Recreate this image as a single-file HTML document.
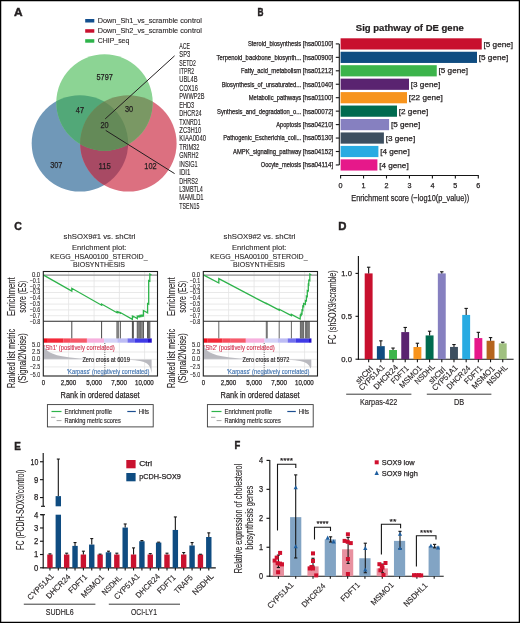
<!DOCTYPE html><html><head><meta charset="utf-8"><style>html,body{margin:0;padding:0;background:#fff}svg{display:block;will-change:transform}</style></head><body>
<svg width="520" height="623" viewBox="0 0 520 623" font-family='"Liberation Sans", sans-serif' fill="#231f20">
<rect x="0" y="0" width="520" height="623" fill="#fff"/>
<text x="13.90" y="15.90" font-size="11.6" font-weight="bold" textLength="8.60" lengthAdjust="spacingAndGlyphs" stroke="#231f20" stroke-width="0.45">A</text>
<rect x="85.20" y="19.00" width="9.10" height="3.50" fill="#134f8e"/>
<rect x="85.20" y="29.20" width="9.10" height="3.50" fill="#c8102e"/>
<rect x="85.20" y="39.20" width="9.10" height="3.50" fill="#2db34a"/>
<text x="97.80" y="22.60" font-size="7.5" textLength="104.20" lengthAdjust="spacingAndGlyphs" stroke="#231f20" stroke-width="0.1">Down_Sh1_vs_scramble control</text>
<text x="97.80" y="32.80" font-size="7.5" textLength="104.20" lengthAdjust="spacingAndGlyphs" stroke="#231f20" stroke-width="0.1">Down_Sh2_vs_scramble control</text>
<text x="97.80" y="42.80" font-size="7.5" textLength="31.50" lengthAdjust="spacingAndGlyphs" stroke="#231f20" stroke-width="0.1">CHIP_seq</text>
<defs><clipPath id="cB"><circle cx="79.9" cy="143.4" r="48.2"/></clipPath><clipPath id="cR"><circle cx="128.4" cy="143.4" r="48.2"/></clipPath><clipPath id="cG"><circle cx="104.5" cy="102.5" r="48.2"/></clipPath></defs>
<circle cx="79.9" cy="143.4" r="48.2" fill="rgb(112,152,184)"/>
<circle cx="128.4" cy="143.4" r="48.2" fill="rgb(220,112,128)"/>
<circle cx="104.5" cy="102.5" r="48.2" fill="rgb(140,212,148)"/>
<g clip-path="url(#cB)"><circle cx="128.4" cy="143.4" r="48.2" fill="rgb(168,74,100)"/><circle cx="104.5" cy="102.5" r="48.2" fill="rgb(82,168,120)"/></g>
<g clip-path="url(#cR)"><circle cx="104.5" cy="102.5" r="48.2" fill="rgb(122,152,100)"/></g>
<g clip-path="url(#cR)"><g clip-path="url(#cB)"><circle cx="104.5" cy="102.5" r="48.2" fill="rgb(100,138,88)"/></g></g>
<text x="104.65" y="79.80" font-size="8.6" text-anchor="middle" textLength="16.30" lengthAdjust="spacingAndGlyphs" stroke="#231f20" stroke-width="0.25">5797</text>
<text x="79.90" y="113.40" font-size="8.6" text-anchor="middle" textLength="8.20" lengthAdjust="spacingAndGlyphs" stroke="#231f20" stroke-width="0.25">47</text>
<text x="129.00" y="111.80" font-size="8.6" text-anchor="middle" textLength="8.20" lengthAdjust="spacingAndGlyphs" stroke="#231f20" stroke-width="0.25">30</text>
<text x="104.60" y="128.40" font-size="8.6" text-anchor="middle" textLength="8.20" lengthAdjust="spacingAndGlyphs" stroke="#231f20" stroke-width="0.25">20</text>
<text x="56.30" y="168.30" font-size="8.6" text-anchor="middle" textLength="12.30" lengthAdjust="spacingAndGlyphs" stroke="#231f20" stroke-width="0.25">307</text>
<text x="104.60" y="169.10" font-size="8.6" text-anchor="middle" textLength="12.30" lengthAdjust="spacingAndGlyphs" stroke="#231f20" stroke-width="0.25">115</text>
<text x="150.50" y="169.10" font-size="8.6" text-anchor="middle" textLength="12.30" lengthAdjust="spacingAndGlyphs" stroke="#231f20" stroke-width="0.25">102</text>
<line x1="105.20" y1="118.90" x2="174.60" y2="55.80" stroke="#231f20" stroke-width="1.0"/>
<line x1="105.70" y1="130.40" x2="174.60" y2="173.60" stroke="#231f20" stroke-width="1.0"/>
<text x="179.30" y="48.70" font-size="8.5" textLength="10.70" lengthAdjust="spacingAndGlyphs" stroke="#231f20" stroke-width="0.12">ACE</text>
<text x="179.30" y="57.13" font-size="8.5" textLength="11.00" lengthAdjust="spacingAndGlyphs" stroke="#231f20" stroke-width="0.12">SP3</text>
<text x="179.30" y="65.56" font-size="8.5" textLength="16.60" lengthAdjust="spacingAndGlyphs" stroke="#231f20" stroke-width="0.12">SETD2</text>
<text x="179.30" y="73.99" font-size="8.5" textLength="14.80" lengthAdjust="spacingAndGlyphs" stroke="#231f20" stroke-width="0.12">ITPR2</text>
<text x="179.30" y="82.42" font-size="8.5" textLength="18.20" lengthAdjust="spacingAndGlyphs" stroke="#231f20" stroke-width="0.12">UBL4B</text>
<text x="179.30" y="90.85" font-size="8.5" textLength="18.60" lengthAdjust="spacingAndGlyphs" stroke="#231f20" stroke-width="0.12">COX16</text>
<text x="179.30" y="99.28" font-size="8.5" textLength="25.10" lengthAdjust="spacingAndGlyphs" stroke="#231f20" stroke-width="0.12">PWWP2B</text>
<text x="179.30" y="107.71" font-size="8.5" textLength="14.80" lengthAdjust="spacingAndGlyphs" stroke="#231f20" stroke-width="0.12">EHD3</text>
<text x="179.30" y="116.14" font-size="8.5" textLength="22.30" lengthAdjust="spacingAndGlyphs" stroke="#231f20" stroke-width="0.12">DHCR24</text>
<text x="179.30" y="124.57" font-size="8.5" textLength="21.40" lengthAdjust="spacingAndGlyphs" stroke="#231f20" stroke-width="0.12">TXNRD1</text>
<text x="179.30" y="133.00" font-size="8.5" textLength="22.00" lengthAdjust="spacingAndGlyphs" stroke="#231f20" stroke-width="0.12">ZC3H10</text>
<text x="179.30" y="141.43" font-size="8.5" textLength="26.70" lengthAdjust="spacingAndGlyphs" stroke="#231f20" stroke-width="0.12">KIAA0040</text>
<text x="179.30" y="149.86" font-size="8.5" textLength="20.10" lengthAdjust="spacingAndGlyphs" stroke="#231f20" stroke-width="0.12">TRIM32</text>
<text x="179.30" y="158.29" font-size="8.5" textLength="19.40" lengthAdjust="spacingAndGlyphs" stroke="#231f20" stroke-width="0.12">GNRH2</text>
<text x="179.30" y="166.72" font-size="8.5" textLength="18.30" lengthAdjust="spacingAndGlyphs" stroke="#231f20" stroke-width="0.12">INSIG1</text>
<text x="179.30" y="175.15" font-size="8.5" textLength="11.10" lengthAdjust="spacingAndGlyphs" stroke="#231f20" stroke-width="0.12">IDI1</text>
<text x="179.30" y="183.58" font-size="8.5" textLength="18.70" lengthAdjust="spacingAndGlyphs" stroke="#231f20" stroke-width="0.12">DHRS2</text>
<text x="179.30" y="192.01" font-size="8.5" textLength="23.60" lengthAdjust="spacingAndGlyphs" stroke="#231f20" stroke-width="0.12">L3MBTL4</text>
<text x="179.30" y="200.44" font-size="8.5" textLength="24.30" lengthAdjust="spacingAndGlyphs" stroke="#231f20" stroke-width="0.12">MAMLD1</text>
<text x="179.30" y="208.87" font-size="8.5" textLength="20.10" lengthAdjust="spacingAndGlyphs" stroke="#231f20" stroke-width="0.12">TSEN15</text>
<text x="257.50" y="16.10" font-size="11.0" font-weight="bold" textLength="6.00" lengthAdjust="spacingAndGlyphs" stroke="#231f20" stroke-width="0.45">B</text>
<text x="355.80" y="30.80" font-size="8.6" font-weight="bold" textLength="108.00" lengthAdjust="spacingAndGlyphs" stroke="#231f20" stroke-width="0.2">Sig pathway of DE gene</text>
<rect x="340.60" y="38.30" width="141.15" height="11.20" fill="#c8102e"/>
<text x="247.90" y="46.30" font-size="6.8" textLength="53.30" lengthAdjust="spacingAndGlyphs" stroke="#231f20" stroke-width="0.25">Steroid_biosynthesis</text>
<text x="302.80" y="46.30" font-size="6.8" textLength="30.50" lengthAdjust="spacingAndGlyphs" stroke="#231f20" stroke-width="0.25">[hsa00100]</text>
<text x="483.55" y="46.50" font-size="7.6" textLength="29.50" lengthAdjust="spacingAndGlyphs" stroke="#231f20" stroke-width="0.25">[5 gene]</text>
<line x1="335.80" y1="43.90" x2="339.30" y2="43.90" stroke="#161616" stroke-width="1.1"/>
<rect x="340.60" y="51.75" width="136.40" height="11.20" fill="#0f4c81"/>
<text x="216.50" y="59.75" font-size="6.8" textLength="84.70" lengthAdjust="spacingAndGlyphs" stroke="#231f20" stroke-width="0.25">Terpenoid_backbone_biosynth...</text>
<text x="302.80" y="59.75" font-size="6.8" textLength="30.50" lengthAdjust="spacingAndGlyphs" stroke="#231f20" stroke-width="0.25">[hsa00900]</text>
<text x="478.80" y="59.95" font-size="7.6" textLength="29.50" lengthAdjust="spacingAndGlyphs" stroke="#231f20" stroke-width="0.25">[5 gene]</text>
<line x1="335.80" y1="57.35" x2="339.30" y2="57.35" stroke="#161616" stroke-width="1.1"/>
<rect x="340.60" y="65.20" width="96.15" height="11.20" fill="#3cb44b"/>
<text x="241.00" y="73.20" font-size="6.8" textLength="60.20" lengthAdjust="spacingAndGlyphs" stroke="#231f20" stroke-width="0.25">Fatty_acid_metabolism</text>
<text x="302.80" y="73.20" font-size="6.8" textLength="30.50" lengthAdjust="spacingAndGlyphs" stroke="#231f20" stroke-width="0.25">[hsa01212]</text>
<text x="438.55" y="73.40" font-size="7.6" textLength="29.50" lengthAdjust="spacingAndGlyphs" stroke="#231f20" stroke-width="0.25">[5 gene]</text>
<line x1="335.80" y1="70.80" x2="339.30" y2="70.80" stroke="#161616" stroke-width="1.1"/>
<rect x="340.60" y="78.65" width="68.40" height="11.20" fill="#5a2370"/>
<text x="221.70" y="86.65" font-size="6.8" textLength="79.50" lengthAdjust="spacingAndGlyphs" stroke="#231f20" stroke-width="0.25">Biosynthesis_of_unsaturated...</text>
<text x="302.80" y="86.65" font-size="6.8" textLength="30.50" lengthAdjust="spacingAndGlyphs" stroke="#231f20" stroke-width="0.25">[hsa01040]</text>
<text x="410.80" y="86.85" font-size="7.6" textLength="29.50" lengthAdjust="spacingAndGlyphs" stroke="#231f20" stroke-width="0.25">[3 gene]</text>
<line x1="335.80" y1="84.25" x2="339.30" y2="84.25" stroke="#161616" stroke-width="1.1"/>
<rect x="340.60" y="92.10" width="66.40" height="11.20" fill="#f7941d"/>
<text x="248.75" y="100.10" font-size="6.8" textLength="52.45" lengthAdjust="spacingAndGlyphs" stroke="#231f20" stroke-width="0.25">Metabolic_pathways</text>
<text x="302.80" y="100.10" font-size="6.8" textLength="30.50" lengthAdjust="spacingAndGlyphs" stroke="#231f20" stroke-width="0.25">[hsa01100]</text>
<text x="408.80" y="100.30" font-size="7.6" textLength="34.00" lengthAdjust="spacingAndGlyphs" stroke="#231f20" stroke-width="0.25">[22 gene]</text>
<line x1="335.80" y1="97.70" x2="339.30" y2="97.70" stroke="#161616" stroke-width="1.1"/>
<rect x="340.60" y="105.55" width="56.40" height="11.20" fill="#006b4f"/>
<text x="217.00" y="113.55" font-size="6.8" textLength="84.20" lengthAdjust="spacingAndGlyphs" stroke="#231f20" stroke-width="0.25">Synthesis_and_degradation_o...</text>
<text x="302.80" y="113.55" font-size="6.8" textLength="30.50" lengthAdjust="spacingAndGlyphs" stroke="#231f20" stroke-width="0.25">[hsa00072]</text>
<text x="398.80" y="113.75" font-size="7.6" textLength="29.50" lengthAdjust="spacingAndGlyphs" stroke="#231f20" stroke-width="0.25">[2 gene]</text>
<line x1="335.80" y1="111.15" x2="339.30" y2="111.15" stroke="#161616" stroke-width="1.1"/>
<rect x="340.60" y="119.00" width="48.50" height="11.20" fill="#8680c0"/>
<text x="276.25" y="127.00" font-size="6.8" textLength="24.95" lengthAdjust="spacingAndGlyphs" stroke="#231f20" stroke-width="0.25">Apoptosis</text>
<text x="302.80" y="127.00" font-size="6.8" textLength="30.50" lengthAdjust="spacingAndGlyphs" stroke="#231f20" stroke-width="0.25">[hsa04210]</text>
<text x="390.90" y="127.20" font-size="7.6" textLength="29.50" lengthAdjust="spacingAndGlyphs" stroke="#231f20" stroke-width="0.25">[5 gene]</text>
<line x1="335.80" y1="124.60" x2="339.30" y2="124.60" stroke="#161616" stroke-width="1.1"/>
<rect x="340.60" y="132.45" width="43.30" height="11.20" fill="#3d4f60"/>
<text x="223.25" y="140.45" font-size="6.8" textLength="77.95" lengthAdjust="spacingAndGlyphs" stroke="#231f20" stroke-width="0.25">Pathogenic_Escherichia_coli...</text>
<text x="302.80" y="140.45" font-size="6.8" textLength="30.50" lengthAdjust="spacingAndGlyphs" stroke="#231f20" stroke-width="0.25">[hsa05130]</text>
<text x="385.70" y="140.65" font-size="7.6" textLength="29.50" lengthAdjust="spacingAndGlyphs" stroke="#231f20" stroke-width="0.25">[3 gene]</text>
<line x1="335.80" y1="138.05" x2="339.30" y2="138.05" stroke="#161616" stroke-width="1.1"/>
<rect x="340.60" y="145.90" width="37.80" height="11.20" fill="#29abe2"/>
<text x="233.00" y="153.90" font-size="6.8" textLength="68.20" lengthAdjust="spacingAndGlyphs" stroke="#231f20" stroke-width="0.25">AMPK_signaling_pathway</text>
<text x="302.80" y="153.90" font-size="6.8" textLength="30.50" lengthAdjust="spacingAndGlyphs" stroke="#231f20" stroke-width="0.25">[hsa04152]</text>
<text x="380.20" y="154.10" font-size="7.6" textLength="29.50" lengthAdjust="spacingAndGlyphs" stroke="#231f20" stroke-width="0.25">[4 gene]</text>
<line x1="335.80" y1="151.50" x2="339.30" y2="151.50" stroke="#161616" stroke-width="1.1"/>
<rect x="340.60" y="159.35" width="36.80" height="11.20" fill="#e6188a"/>
<text x="260.75" y="167.35" font-size="6.8" textLength="40.45" lengthAdjust="spacingAndGlyphs" stroke="#231f20" stroke-width="0.25">Oocyte_meiosis</text>
<text x="302.80" y="167.35" font-size="6.8" textLength="30.50" lengthAdjust="spacingAndGlyphs" stroke="#231f20" stroke-width="0.25">[hsa04114]</text>
<text x="379.20" y="167.55" font-size="7.6" textLength="29.50" lengthAdjust="spacingAndGlyphs" stroke="#231f20" stroke-width="0.25">[4 gene]</text>
<line x1="335.80" y1="164.95" x2="339.30" y2="164.95" stroke="#161616" stroke-width="1.1"/>
<line x1="339.30" y1="43.90" x2="339.30" y2="164.95" stroke="#161616" stroke-width="1.1"/>
<line x1="340.60" y1="175.50" x2="478.30" y2="175.50" stroke="#161616" stroke-width="1.2"/>
<line x1="340.60" y1="175.00" x2="340.60" y2="178.50" stroke="#161616" stroke-width="1.1"/>
<text x="340.60" y="187.70" font-size="7.2" text-anchor="middle" stroke="#231f20" stroke-width="0.25">0</text>
<line x1="363.55" y1="175.00" x2="363.55" y2="178.50" stroke="#161616" stroke-width="1.1"/>
<text x="363.55" y="187.70" font-size="7.2" text-anchor="middle" stroke="#231f20" stroke-width="0.25">1</text>
<line x1="386.50" y1="175.00" x2="386.50" y2="178.50" stroke="#161616" stroke-width="1.1"/>
<text x="386.50" y="187.70" font-size="7.2" text-anchor="middle" stroke="#231f20" stroke-width="0.25">2</text>
<line x1="409.45" y1="175.00" x2="409.45" y2="178.50" stroke="#161616" stroke-width="1.1"/>
<text x="409.45" y="187.70" font-size="7.2" text-anchor="middle" stroke="#231f20" stroke-width="0.25">3</text>
<line x1="432.40" y1="175.00" x2="432.40" y2="178.50" stroke="#161616" stroke-width="1.1"/>
<text x="432.40" y="187.70" font-size="7.2" text-anchor="middle" stroke="#231f20" stroke-width="0.25">4</text>
<line x1="455.35" y1="175.00" x2="455.35" y2="178.50" stroke="#161616" stroke-width="1.1"/>
<text x="455.35" y="187.70" font-size="7.2" text-anchor="middle" stroke="#231f20" stroke-width="0.25">5</text>
<line x1="478.30" y1="175.00" x2="478.30" y2="178.50" stroke="#161616" stroke-width="1.1"/>
<text x="478.30" y="187.70" font-size="7.2" text-anchor="middle" stroke="#231f20" stroke-width="0.25">6</text>
<text x="351.20" y="201.20" font-size="9.6" textLength="118.00" lengthAdjust="spacingAndGlyphs" stroke="#231f20" stroke-width="0.25">Enrichment score (−log10(p_value))</text>
<text x="14.30" y="230.00" font-size="11.0" font-weight="bold" textLength="7.60" lengthAdjust="spacingAndGlyphs" stroke="#231f20" stroke-width="0.45">C</text>
<text x="63.60" y="239.00" font-size="7.6" textLength="71.90" lengthAdjust="spacingAndGlyphs" stroke="#231f20" stroke-width="0.1">shSOX9#1 vs. shCtrl</text>
<text x="72.10" y="249.80" font-size="7.6" textLength="54.30" lengthAdjust="spacingAndGlyphs" stroke="#231f20" stroke-width="0.1">Enrichment plot:</text>
<text x="50.30" y="259.10" font-size="7.6" textLength="97.30" lengthAdjust="spacingAndGlyphs" stroke="#231f20" stroke-width="0.1">KEGG_HSA00100_STEROID_</text>
<text x="73.10" y="267.10" font-size="7.6" textLength="51.90" lengthAdjust="spacingAndGlyphs" stroke="#231f20" stroke-width="0.1">BIOSYNTHESIS</text>
<line x1="43.30" y1="280.90" x2="157.50" y2="280.90" stroke="#e3e3e3" stroke-width="0.8"/>
<line x1="43.30" y1="286.70" x2="157.50" y2="286.70" stroke="#e3e3e3" stroke-width="0.8"/>
<line x1="43.30" y1="292.50" x2="157.50" y2="292.50" stroke="#e3e3e3" stroke-width="0.8"/>
<line x1="43.30" y1="298.30" x2="157.50" y2="298.30" stroke="#e3e3e3" stroke-width="0.8"/>
<line x1="43.30" y1="304.10" x2="157.50" y2="304.10" stroke="#e3e3e3" stroke-width="0.8"/>
<line x1="43.30" y1="309.90" x2="157.50" y2="309.90" stroke="#e3e3e3" stroke-width="0.8"/>
<line x1="43.30" y1="315.70" x2="157.50" y2="315.70" stroke="#e3e3e3" stroke-width="0.8"/>
<line x1="68.60" y1="271.50" x2="68.60" y2="321.30" stroke="#e3e3e3" stroke-width="0.8"/>
<line x1="68.60" y1="342.70" x2="68.60" y2="376.00" stroke="#e3e3e3" stroke-width="0.8"/>
<line x1="94.10" y1="271.50" x2="94.10" y2="321.30" stroke="#e3e3e3" stroke-width="0.8"/>
<line x1="94.10" y1="342.70" x2="94.10" y2="376.00" stroke="#e3e3e3" stroke-width="0.8"/>
<line x1="119.40" y1="271.50" x2="119.40" y2="321.30" stroke="#e3e3e3" stroke-width="0.8"/>
<line x1="119.40" y1="342.70" x2="119.40" y2="376.00" stroke="#e3e3e3" stroke-width="0.8"/>
<line x1="144.60" y1="271.50" x2="144.60" y2="321.30" stroke="#e3e3e3" stroke-width="0.8"/>
<line x1="144.60" y1="342.70" x2="144.60" y2="376.00" stroke="#e3e3e3" stroke-width="0.8"/>
<line x1="43.30" y1="352.00" x2="157.50" y2="352.00" stroke="#e3e3e3" stroke-width="0.8"/>
<line x1="43.30" y1="366.90" x2="157.50" y2="366.90" stroke="#e3e3e3" stroke-width="0.8"/>
<line x1="43.30" y1="275.10" x2="157.50" y2="275.10" stroke="#8c8c8c" stroke-width="1.4"/>
<path d="M43.80,359.30 L43.80,344.50 L44.50,347.00 L46.00,349.50 L48.00,351.20 L50.00,352.40 L53.00,353.80 L57.00,355.20 L62.00,356.30 L70.00,357.60 L80.00,358.50 L92.00,359.00 L105.00,359.30 L125.00,359.60 L135.00,360.20 L140.00,360.90 L144.00,362.00 L147.00,363.60 L149.00,365.50 L150.50,368.50 L151.60,373.00 L151.60,359.30 Z" fill="#b9b9bf"/>
<line x1="43.30" y1="359.30" x2="157.50" y2="359.30" stroke="#e3e3e3" stroke-width="0.6"/>
<line x1="104.80" y1="343.00" x2="104.80" y2="376.00" stroke="#555" stroke-width="0.9" stroke-dasharray="1,1.2"/>
<rect x="43.30" y="338.40" width="4.55" height="4.30" fill="#f0101e"/>
<rect x="47.80" y="338.40" width="15.45" height="4.30" fill="#f32a3a"/>
<rect x="63.20" y="338.40" width="7.65" height="4.30" fill="#f64d5e"/>
<rect x="70.80" y="338.40" width="16.15" height="4.30" fill="#f65a6a"/>
<rect x="86.90" y="338.40" width="17.25" height="4.30" fill="#f6b0de"/>
<rect x="104.10" y="338.40" width="13.25" height="4.30" fill="#d5d4f8"/>
<rect x="117.30" y="338.40" width="10.25" height="4.30" fill="#bdbcf4"/>
<rect x="127.50" y="338.40" width="7.35" height="4.30" fill="#7270ee"/>
<rect x="134.80" y="338.40" width="13.25" height="4.30" fill="#3f3ae6"/>
<rect x="148.00" y="338.40" width="3.75" height="4.30" fill="#2410c8"/>
<line x1="71.80" y1="321.30" x2="71.80" y2="338.40" stroke="#333" stroke-width="0.9"/>
<line x1="101.60" y1="321.30" x2="101.60" y2="338.40" stroke="#333" stroke-width="0.9"/>
<line x1="117.00" y1="321.30" x2="117.00" y2="338.40" stroke="#333" stroke-width="0.9"/>
<line x1="118.20" y1="321.30" x2="118.20" y2="338.40" stroke="#333" stroke-width="0.9"/>
<line x1="120.30" y1="321.30" x2="120.30" y2="338.40" stroke="#333" stroke-width="0.9"/>
<line x1="132.40" y1="321.30" x2="132.40" y2="338.40" stroke="#333" stroke-width="0.9"/>
<line x1="133.30" y1="321.30" x2="133.30" y2="338.40" stroke="#333" stroke-width="0.9"/>
<line x1="137.30" y1="321.30" x2="137.30" y2="338.40" stroke="#333" stroke-width="0.9"/>
<line x1="138.80" y1="321.30" x2="138.80" y2="338.40" stroke="#333" stroke-width="0.9"/>
<line x1="139.90" y1="321.30" x2="139.90" y2="338.40" stroke="#333" stroke-width="0.9"/>
<line x1="140.90" y1="321.30" x2="140.90" y2="338.40" stroke="#333" stroke-width="0.9"/>
<line x1="142.10" y1="321.30" x2="142.10" y2="338.40" stroke="#333" stroke-width="0.9"/>
<line x1="143.40" y1="321.30" x2="143.40" y2="338.40" stroke="#333" stroke-width="0.9"/>
<line x1="147.60" y1="321.30" x2="147.60" y2="338.40" stroke="#333" stroke-width="0.9"/>
<line x1="148.70" y1="321.30" x2="148.70" y2="338.40" stroke="#333" stroke-width="0.9"/>
<line x1="149.80" y1="321.30" x2="149.80" y2="338.40" stroke="#333" stroke-width="0.9"/>
<polyline points="43.60,275.10 71.80,291.10 71.80,288.30 101.60,305.20 101.60,304.00 117.00,312.70 117.00,311.70 118.20,312.40 118.20,311.90 120.30,313.10 120.30,312.50 132.40,319.40 132.40,316.20 133.30,316.70 133.30,316.30 137.30,318.60 137.30,316.10 138.80,316.90 138.80,316.10 139.90,316.70 139.90,315.70 140.90,316.30 140.90,315.50 142.10,316.20 142.10,315.20 143.40,315.90 143.40,310.50 147.60,312.90 147.60,303.50 148.70,304.10 148.70,280.50 149.80,281.10 149.80,274.00 151.40,274.90" fill="none" stroke="#2db34a" stroke-width="1.3" stroke-linejoin="miter"/>
<rect x="43.30" y="271.50" width="114.20" height="104.50" fill="none" stroke="#1e1e1e" stroke-width="1.1"/>
<line x1="43.30" y1="321.30" x2="157.50" y2="321.30" stroke="#2a2a2a" stroke-width="1.1"/>
<text x="40.20" y="276.75" font-size="6.9" text-anchor="end" textLength="8.30" lengthAdjust="spacingAndGlyphs" stroke="#231f20" stroke-width="0.1">0.0</text>
<text x="40.20" y="282.64" font-size="6.9" text-anchor="end" textLength="10.60" lengthAdjust="spacingAndGlyphs" stroke="#231f20" stroke-width="0.1">−0.1</text>
<text x="40.20" y="288.53" font-size="6.9" text-anchor="end" textLength="10.60" lengthAdjust="spacingAndGlyphs" stroke="#231f20" stroke-width="0.1">−0.2</text>
<text x="40.20" y="294.42" font-size="6.9" text-anchor="end" textLength="10.60" lengthAdjust="spacingAndGlyphs" stroke="#231f20" stroke-width="0.1">−0.3</text>
<text x="40.20" y="300.31" font-size="6.9" text-anchor="end" textLength="10.60" lengthAdjust="spacingAndGlyphs" stroke="#231f20" stroke-width="0.1">−0.4</text>
<text x="40.20" y="306.20" font-size="6.9" text-anchor="end" textLength="10.60" lengthAdjust="spacingAndGlyphs" stroke="#231f20" stroke-width="0.1">−0.5</text>
<text x="40.20" y="312.09" font-size="6.9" text-anchor="end" textLength="10.60" lengthAdjust="spacingAndGlyphs" stroke="#231f20" stroke-width="0.1">−0.6</text>
<text x="40.20" y="317.98" font-size="6.9" text-anchor="end" textLength="10.60" lengthAdjust="spacingAndGlyphs" stroke="#231f20" stroke-width="0.1">−0.7</text>
<text x="40.20" y="323.87" font-size="6.9" text-anchor="end" textLength="10.60" lengthAdjust="spacingAndGlyphs" stroke="#231f20" stroke-width="0.1">−0.8</text>
<text x="40.20" y="346.95" font-size="6.9" text-anchor="end" textLength="8.20" lengthAdjust="spacingAndGlyphs" stroke="#231f20" stroke-width="0.1">5.0</text>
<text x="40.20" y="354.45" font-size="6.9" text-anchor="end" textLength="8.20" lengthAdjust="spacingAndGlyphs" stroke="#231f20" stroke-width="0.1">2.5</text>
<text x="40.20" y="361.35" font-size="6.9" text-anchor="end" textLength="8.20" lengthAdjust="spacingAndGlyphs" stroke="#231f20" stroke-width="0.1">0.0</text>
<text x="40.20" y="369.35" font-size="6.9" text-anchor="end" textLength="10.50" lengthAdjust="spacingAndGlyphs" stroke="#231f20" stroke-width="0.1">−2.5</text>
<text x="40.20" y="376.95" font-size="6.9" text-anchor="end" textLength="10.50" lengthAdjust="spacingAndGlyphs" stroke="#231f20" stroke-width="0.1">−5.0</text>
<text transform="translate(14.75,316.00) rotate(-90)" x="0" y="0" font-size="10.0" textLength="38.60" lengthAdjust="spacingAndGlyphs" stroke="#231f20" stroke-width="0.1">Enrichment</text>
<text transform="translate(26.00,312.70) rotate(-90)" x="0" y="0" font-size="10.0" textLength="31.90" lengthAdjust="spacingAndGlyphs" stroke="#231f20" stroke-width="0.1">score (ES)</text>
<text transform="translate(14.75,387.90) rotate(-90)" x="0" y="0" font-size="10.0" textLength="59.00" lengthAdjust="spacingAndGlyphs" stroke="#231f20" stroke-width="0.1">Ranked list metric</text>
<text transform="translate(26.00,383.20) rotate(-90)" x="0" y="0" font-size="10.0" textLength="50.10" lengthAdjust="spacingAndGlyphs" stroke="#231f20" stroke-width="0.1">(Signal2Noise)</text>
<text x="43.30" y="385.30" font-size="7.0" text-anchor="middle" textLength="3.30" lengthAdjust="spacingAndGlyphs" stroke="#231f20" stroke-width="0.25">0</text>
<text x="68.50" y="385.30" font-size="7.0" text-anchor="middle" textLength="15.50" lengthAdjust="spacingAndGlyphs" stroke="#231f20" stroke-width="0.25">2,500</text>
<text x="94.10" y="385.30" font-size="7.0" text-anchor="middle" textLength="15.70" lengthAdjust="spacingAndGlyphs" stroke="#231f20" stroke-width="0.25">5,000</text>
<text x="119.10" y="385.30" font-size="7.0" text-anchor="middle" textLength="15.70" lengthAdjust="spacingAndGlyphs" stroke="#231f20" stroke-width="0.25">7,500</text>
<text x="144.40" y="385.30" font-size="7.0" text-anchor="middle" textLength="18.70" lengthAdjust="spacingAndGlyphs" stroke="#231f20" stroke-width="0.25">10,000</text>
<text x="60.60" y="398.00" font-size="9.8" textLength="79.00" lengthAdjust="spacingAndGlyphs" stroke="#231f20" stroke-width="0.25">Rank in ordered dataset</text>
<text x="44.30" y="349.70" font-size="6.9" textLength="70.40" lengthAdjust="spacingAndGlyphs" fill="#d0314f" stroke="#d0314f" stroke-width="0.12">'Sh1' (positively correlated)</text>
<text x="82.40" y="361.60" font-size="6.9" textLength="47.40" lengthAdjust="spacingAndGlyphs" stroke="#231f20" stroke-width="0.18">Zero cross at 6019</text>
<text x="67.00" y="374.00" font-size="6.9" textLength="82.40" lengthAdjust="spacingAndGlyphs" fill="#3b6fae" stroke="#3b6fae" stroke-width="0.12">'Karpass' (negatively correlated)</text>
<rect x="47.40" y="404.6" width="105.80" height="22.3" fill="none" stroke="#3a3a3a" stroke-width="0.9"/>
<line x1="51.50" y1="411.50" x2="61.50" y2="411.50" stroke="#2db34a" stroke-width="1.2"/>
<text x="64.60" y="413.90" font-size="7.6" textLength="47.50" lengthAdjust="spacingAndGlyphs" stroke="#231f20" stroke-width="0.15">Enrichment profile</text>
<line x1="127.30" y1="411.50" x2="135.80" y2="411.50" stroke="#1d4f91" stroke-width="1.2"/>
<text x="138.80" y="413.90" font-size="7.6" textLength="10.20" lengthAdjust="spacingAndGlyphs" stroke="#231f20" stroke-width="0.15">Hits</text>
<polyline points="51.00,417.30 55.40,417.30" fill="none" stroke="#9a9a9a" stroke-width="0.9"/>
<line x1="56.60" y1="420.60" x2="61.50" y2="420.60" stroke="#9a9a9a" stroke-width="0.9"/>
<text x="64.60" y="422.70" font-size="7.6" textLength="56.25" lengthAdjust="spacingAndGlyphs" stroke="#231f20" stroke-width="0.15">Ranking metric scores</text>
<text x="223.60" y="239.00" font-size="7.6" textLength="71.90" lengthAdjust="spacingAndGlyphs" stroke="#231f20" stroke-width="0.1">shSOX9#2 vs. shCtrl</text>
<text x="232.10" y="249.80" font-size="7.6" textLength="54.30" lengthAdjust="spacingAndGlyphs" stroke="#231f20" stroke-width="0.1">Enrichment plot:</text>
<text x="210.30" y="259.10" font-size="7.6" textLength="97.30" lengthAdjust="spacingAndGlyphs" stroke="#231f20" stroke-width="0.1">KEGG_HSA00100_STEROID_</text>
<text x="233.10" y="267.10" font-size="7.6" textLength="51.90" lengthAdjust="spacingAndGlyphs" stroke="#231f20" stroke-width="0.1">BIOSYNTHESIS</text>
<line x1="203.30" y1="280.90" x2="317.50" y2="280.90" stroke="#e3e3e3" stroke-width="0.8"/>
<line x1="203.30" y1="286.70" x2="317.50" y2="286.70" stroke="#e3e3e3" stroke-width="0.8"/>
<line x1="203.30" y1="292.50" x2="317.50" y2="292.50" stroke="#e3e3e3" stroke-width="0.8"/>
<line x1="203.30" y1="298.30" x2="317.50" y2="298.30" stroke="#e3e3e3" stroke-width="0.8"/>
<line x1="203.30" y1="304.10" x2="317.50" y2="304.10" stroke="#e3e3e3" stroke-width="0.8"/>
<line x1="203.30" y1="309.90" x2="317.50" y2="309.90" stroke="#e3e3e3" stroke-width="0.8"/>
<line x1="203.30" y1="315.70" x2="317.50" y2="315.70" stroke="#e3e3e3" stroke-width="0.8"/>
<line x1="228.60" y1="271.50" x2="228.60" y2="321.30" stroke="#e3e3e3" stroke-width="0.8"/>
<line x1="228.60" y1="342.70" x2="228.60" y2="376.00" stroke="#e3e3e3" stroke-width="0.8"/>
<line x1="254.10" y1="271.50" x2="254.10" y2="321.30" stroke="#e3e3e3" stroke-width="0.8"/>
<line x1="254.10" y1="342.70" x2="254.10" y2="376.00" stroke="#e3e3e3" stroke-width="0.8"/>
<line x1="279.40" y1="271.50" x2="279.40" y2="321.30" stroke="#e3e3e3" stroke-width="0.8"/>
<line x1="279.40" y1="342.70" x2="279.40" y2="376.00" stroke="#e3e3e3" stroke-width="0.8"/>
<line x1="304.60" y1="271.50" x2="304.60" y2="321.30" stroke="#e3e3e3" stroke-width="0.8"/>
<line x1="304.60" y1="342.70" x2="304.60" y2="376.00" stroke="#e3e3e3" stroke-width="0.8"/>
<line x1="203.30" y1="352.00" x2="317.50" y2="352.00" stroke="#e3e3e3" stroke-width="0.8"/>
<line x1="203.30" y1="366.90" x2="317.50" y2="366.90" stroke="#e3e3e3" stroke-width="0.8"/>
<line x1="203.30" y1="275.10" x2="317.50" y2="275.10" stroke="#8c8c8c" stroke-width="1.4"/>
<path d="M203.80,359.30 L203.80,344.50 L204.50,347.00 L206.00,349.50 L208.00,351.20 L210.00,352.40 L213.00,353.80 L217.00,355.20 L222.00,356.30 L230.00,357.60 L240.00,358.50 L252.00,359.00 L265.00,359.30 L285.00,359.60 L295.00,360.20 L300.00,360.90 L304.00,362.00 L307.00,363.60 L309.00,365.50 L310.50,368.50 L311.30,366.50 L311.30,359.30 Z" fill="#b9b9bf"/>
<line x1="203.30" y1="359.30" x2="317.50" y2="359.30" stroke="#e3e3e3" stroke-width="0.6"/>
<line x1="264.20" y1="343.00" x2="264.20" y2="376.00" stroke="#555" stroke-width="0.9" stroke-dasharray="1,1.2"/>
<rect x="203.30" y="338.40" width="3.95" height="4.30" fill="#f0101e"/>
<rect x="207.20" y="338.40" width="15.05" height="4.30" fill="#f32a3a"/>
<rect x="222.20" y="338.40" width="8.65" height="4.30" fill="#f64d5e"/>
<rect x="230.80" y="338.40" width="15.05" height="4.30" fill="#f65a6a"/>
<rect x="245.80" y="338.40" width="18.85" height="4.30" fill="#f6b0de"/>
<rect x="264.60" y="338.40" width="13.35" height="4.30" fill="#d5d4f8"/>
<rect x="277.90" y="338.40" width="9.85" height="4.30" fill="#bdbcf4"/>
<rect x="287.70" y="338.40" width="8.15" height="4.30" fill="#7270ee"/>
<rect x="295.80" y="338.40" width="13.25" height="4.30" fill="#3f3ae6"/>
<rect x="309.00" y="338.40" width="2.45" height="4.30" fill="#2410c8"/>
<line x1="218.80" y1="321.30" x2="218.80" y2="338.40" stroke="#555" stroke-width="0.9"/>
<line x1="266.30" y1="321.30" x2="266.30" y2="338.40" stroke="#555" stroke-width="0.9"/>
<line x1="267.20" y1="321.30" x2="267.20" y2="338.40" stroke="#555" stroke-width="0.9"/>
<line x1="279.20" y1="321.30" x2="279.20" y2="338.40" stroke="#555" stroke-width="0.9"/>
<line x1="291.40" y1="321.30" x2="291.40" y2="338.40" stroke="#555" stroke-width="0.9"/>
<line x1="300.40" y1="321.30" x2="300.40" y2="338.40" stroke="#555" stroke-width="0.9"/>
<line x1="301.20" y1="321.30" x2="301.20" y2="338.40" stroke="#555" stroke-width="0.9"/>
<line x1="302.00" y1="321.30" x2="302.00" y2="338.40" stroke="#555" stroke-width="0.9"/>
<line x1="302.80" y1="321.30" x2="302.80" y2="338.40" stroke="#555" stroke-width="0.9"/>
<line x1="303.60" y1="321.30" x2="303.60" y2="338.40" stroke="#555" stroke-width="0.9"/>
<line x1="305.40" y1="321.30" x2="305.40" y2="338.40" stroke="#555" stroke-width="0.9"/>
<line x1="306.40" y1="321.30" x2="306.40" y2="338.40" stroke="#555" stroke-width="0.9"/>
<line x1="307.30" y1="321.30" x2="307.30" y2="338.40" stroke="#555" stroke-width="0.9"/>
<line x1="308.30" y1="321.30" x2="308.30" y2="338.40" stroke="#555" stroke-width="0.9"/>
<line x1="309.30" y1="321.30" x2="309.30" y2="338.40" stroke="#555" stroke-width="0.9"/>
<polyline points="203.80,275.10 218.80,283.00 218.80,278.70 266.40,303.70 266.40,303.40 279.20,310.10 279.20,309.20 291.40,315.60 291.40,314.40 300.10,319.00 300.40,315.00 301.20,315.40 301.20,313.50 302.00,313.90 302.00,310.00 302.80,310.40 302.80,306.00 303.60,306.40 303.60,303.50 305.40,304.40 305.40,300.50 306.40,301.00 306.40,296.00 307.30,296.50 307.30,290.50 308.30,291.00 308.30,284.50 308.80,284.80 308.80,280.20 309.80,280.70 309.80,274.00 311.30,274.80" fill="none" stroke="#2db34a" stroke-width="1.3" stroke-linejoin="miter"/>
<rect x="203.30" y="271.50" width="114.20" height="104.50" fill="none" stroke="#1e1e1e" stroke-width="1.1"/>
<line x1="203.30" y1="321.30" x2="317.50" y2="321.30" stroke="#2a2a2a" stroke-width="1.1"/>
<text x="200.20" y="276.75" font-size="6.9" text-anchor="end" textLength="8.30" lengthAdjust="spacingAndGlyphs" stroke="#231f20" stroke-width="0.1">0.0</text>
<text x="200.20" y="282.64" font-size="6.9" text-anchor="end" textLength="10.60" lengthAdjust="spacingAndGlyphs" stroke="#231f20" stroke-width="0.1">−0.1</text>
<text x="200.20" y="288.53" font-size="6.9" text-anchor="end" textLength="10.60" lengthAdjust="spacingAndGlyphs" stroke="#231f20" stroke-width="0.1">−0.2</text>
<text x="200.20" y="294.42" font-size="6.9" text-anchor="end" textLength="10.60" lengthAdjust="spacingAndGlyphs" stroke="#231f20" stroke-width="0.1">−0.3</text>
<text x="200.20" y="300.31" font-size="6.9" text-anchor="end" textLength="10.60" lengthAdjust="spacingAndGlyphs" stroke="#231f20" stroke-width="0.1">−0.4</text>
<text x="200.20" y="306.20" font-size="6.9" text-anchor="end" textLength="10.60" lengthAdjust="spacingAndGlyphs" stroke="#231f20" stroke-width="0.1">−0.5</text>
<text x="200.20" y="312.09" font-size="6.9" text-anchor="end" textLength="10.60" lengthAdjust="spacingAndGlyphs" stroke="#231f20" stroke-width="0.1">−0.6</text>
<text x="200.20" y="317.98" font-size="6.9" text-anchor="end" textLength="10.60" lengthAdjust="spacingAndGlyphs" stroke="#231f20" stroke-width="0.1">−0.7</text>
<text x="200.20" y="323.87" font-size="6.9" text-anchor="end" textLength="10.60" lengthAdjust="spacingAndGlyphs" stroke="#231f20" stroke-width="0.1">−0.8</text>
<text x="200.20" y="346.95" font-size="6.9" text-anchor="end" textLength="8.20" lengthAdjust="spacingAndGlyphs" stroke="#231f20" stroke-width="0.1">5.0</text>
<text x="200.20" y="354.45" font-size="6.9" text-anchor="end" textLength="8.20" lengthAdjust="spacingAndGlyphs" stroke="#231f20" stroke-width="0.1">2.5</text>
<text x="200.20" y="361.35" font-size="6.9" text-anchor="end" textLength="8.20" lengthAdjust="spacingAndGlyphs" stroke="#231f20" stroke-width="0.1">0.0</text>
<text x="200.20" y="369.35" font-size="6.9" text-anchor="end" textLength="10.50" lengthAdjust="spacingAndGlyphs" stroke="#231f20" stroke-width="0.1">−2.5</text>
<text x="200.20" y="376.95" font-size="6.9" text-anchor="end" textLength="10.50" lengthAdjust="spacingAndGlyphs" stroke="#231f20" stroke-width="0.1">−5.0</text>
<text transform="translate(174.75,316.00) rotate(-90)" x="0" y="0" font-size="10.0" textLength="38.60" lengthAdjust="spacingAndGlyphs" stroke="#231f20" stroke-width="0.1">Enrichment</text>
<text transform="translate(186.00,312.70) rotate(-90)" x="0" y="0" font-size="10.0" textLength="31.90" lengthAdjust="spacingAndGlyphs" stroke="#231f20" stroke-width="0.1">score (ES)</text>
<text transform="translate(174.75,387.90) rotate(-90)" x="0" y="0" font-size="10.0" textLength="59.00" lengthAdjust="spacingAndGlyphs" stroke="#231f20" stroke-width="0.1">Ranked list metric</text>
<text transform="translate(186.00,383.20) rotate(-90)" x="0" y="0" font-size="10.0" textLength="50.10" lengthAdjust="spacingAndGlyphs" stroke="#231f20" stroke-width="0.1">(Signal2Noise)</text>
<text x="203.30" y="385.30" font-size="7.0" text-anchor="middle" textLength="3.30" lengthAdjust="spacingAndGlyphs" stroke="#231f20" stroke-width="0.25">0</text>
<text x="228.50" y="385.30" font-size="7.0" text-anchor="middle" textLength="15.50" lengthAdjust="spacingAndGlyphs" stroke="#231f20" stroke-width="0.25">2,500</text>
<text x="254.10" y="385.30" font-size="7.0" text-anchor="middle" textLength="15.70" lengthAdjust="spacingAndGlyphs" stroke="#231f20" stroke-width="0.25">5,000</text>
<text x="279.10" y="385.30" font-size="7.0" text-anchor="middle" textLength="15.70" lengthAdjust="spacingAndGlyphs" stroke="#231f20" stroke-width="0.25">7,500</text>
<text x="304.40" y="385.30" font-size="7.0" text-anchor="middle" textLength="18.70" lengthAdjust="spacingAndGlyphs" stroke="#231f20" stroke-width="0.25">10,000</text>
<text x="220.60" y="398.00" font-size="9.8" textLength="79.00" lengthAdjust="spacingAndGlyphs" stroke="#231f20" stroke-width="0.25">Rank in ordered dataset</text>
<text x="204.30" y="349.70" font-size="6.9" textLength="70.40" lengthAdjust="spacingAndGlyphs" fill="#d0314f" stroke="#d0314f" stroke-width="0.12">'Sh2' (positively correlated)</text>
<text x="242.50" y="361.60" font-size="6.9" textLength="46.80" lengthAdjust="spacingAndGlyphs" stroke="#231f20" stroke-width="0.18">Zero cross at 5972</text>
<text x="227.00" y="374.00" font-size="6.9" textLength="82.40" lengthAdjust="spacingAndGlyphs" fill="#3b6fae" stroke="#3b6fae" stroke-width="0.12">'Karpass' (negatively correlated)</text>
<rect x="207.40" y="404.6" width="105.80" height="22.3" fill="none" stroke="#3a3a3a" stroke-width="0.9"/>
<line x1="211.50" y1="411.50" x2="221.50" y2="411.50" stroke="#2db34a" stroke-width="1.2"/>
<text x="224.60" y="413.90" font-size="7.6" textLength="47.50" lengthAdjust="spacingAndGlyphs" stroke="#231f20" stroke-width="0.15">Enrichment profile</text>
<line x1="287.30" y1="411.50" x2="295.80" y2="411.50" stroke="#1d4f91" stroke-width="1.2"/>
<text x="298.80" y="413.90" font-size="7.6" textLength="10.20" lengthAdjust="spacingAndGlyphs" stroke="#231f20" stroke-width="0.15">Hits</text>
<polyline points="211.00,417.30 215.40,417.30" fill="none" stroke="#9a9a9a" stroke-width="0.9"/>
<line x1="216.60" y1="420.60" x2="221.50" y2="420.60" stroke="#9a9a9a" stroke-width="0.9"/>
<text x="224.60" y="422.70" font-size="7.6" textLength="56.25" lengthAdjust="spacingAndGlyphs" stroke="#231f20" stroke-width="0.15">Ranking metric scores</text>
<text x="338.30" y="230.00" font-size="11.0" font-weight="bold" textLength="8.20" lengthAdjust="spacingAndGlyphs" stroke="#231f20" stroke-width="0.45">D</text>
<line x1="358.40" y1="255.90" x2="358.40" y2="359.70" stroke="#161616" stroke-width="1.15"/>
<line x1="357.90" y1="359.20" x2="513.60" y2="359.20" stroke="#161616" stroke-width="1.15"/>
<line x1="355.50" y1="273.40" x2="358.40" y2="273.40" stroke="#161616" stroke-width="1.1"/>
<text x="351.90" y="276.10" font-size="7.6" text-anchor="end" textLength="10.60" lengthAdjust="spacingAndGlyphs" stroke="#231f20" stroke-width="0.25">1.0</text>
<line x1="355.50" y1="316.30" x2="358.40" y2="316.30" stroke="#161616" stroke-width="1.1"/>
<text x="351.90" y="319.00" font-size="7.6" text-anchor="end" textLength="10.60" lengthAdjust="spacingAndGlyphs" stroke="#231f20" stroke-width="0.25">0.5</text>
<line x1="355.50" y1="359.20" x2="358.40" y2="359.20" stroke="#161616" stroke-width="1.1"/>
<text x="351.90" y="361.90" font-size="7.6" text-anchor="end" textLength="10.60" lengthAdjust="spacingAndGlyphs" stroke="#231f20" stroke-width="0.25">0.0</text>
<text transform="translate(336.00,344.00) rotate(-90)" x="0" y="0" font-size="10.0" textLength="73.60" lengthAdjust="spacingAndGlyphs" stroke="#231f20" stroke-width="0.1">FC (shSOX9/scramble)</text>
<rect x="364.70" y="273.40" width="7.90" height="85.80" fill="#c8102e"/>
<line x1="368.65" y1="267.22" x2="368.65" y2="273.40" stroke="#161616" stroke-width="1.1"/>
<line x1="366.95" y1="267.22" x2="370.35" y2="267.22" stroke="#161616" stroke-width="1.1"/>
<line x1="368.65" y1="359.20" x2="368.65" y2="362.30" stroke="#161616" stroke-width="1.1"/>
<text transform="translate(358.65,384.25) rotate(-45)" x="0" y="0" font-size="8.0" textLength="21.17" lengthAdjust="spacingAndGlyphs" stroke="#231f20" stroke-width="0.12">shCtrl</text>
<rect x="376.89" y="346.16" width="7.90" height="13.04" fill="#0f4c81"/>
<line x1="380.84" y1="340.84" x2="380.84" y2="346.16" stroke="#161616" stroke-width="1.1"/>
<line x1="379.14" y1="340.84" x2="382.54" y2="340.84" stroke="#161616" stroke-width="1.1"/>
<line x1="380.84" y1="359.20" x2="380.84" y2="362.30" stroke="#161616" stroke-width="1.1"/>
<text transform="translate(361.95,391.00) rotate(-45)" x="0" y="0" font-size="8.0" textLength="32.80" lengthAdjust="spacingAndGlyphs" stroke="#231f20" stroke-width="0.12">CYP51A1</text>
<rect x="389.08" y="350.02" width="7.90" height="9.18" fill="#3cb44b"/>
<line x1="393.03" y1="348.05" x2="393.03" y2="350.02" stroke="#161616" stroke-width="1.1"/>
<line x1="391.33" y1="348.05" x2="394.73" y2="348.05" stroke="#161616" stroke-width="1.1"/>
<line x1="393.03" y1="359.20" x2="393.03" y2="362.30" stroke="#161616" stroke-width="1.1"/>
<text transform="translate(376.70,390.00) rotate(-45)" x="0" y="0" font-size="8.0" textLength="31.02" lengthAdjust="spacingAndGlyphs" stroke="#231f20" stroke-width="0.12">DHCR24</text>
<rect x="401.27" y="332.09" width="7.90" height="27.11" fill="#5a2370"/>
<line x1="405.22" y1="327.45" x2="405.22" y2="332.09" stroke="#161616" stroke-width="1.1"/>
<line x1="403.52" y1="327.45" x2="406.92" y2="327.45" stroke="#161616" stroke-width="1.1"/>
<line x1="405.22" y1="359.20" x2="405.22" y2="362.30" stroke="#161616" stroke-width="1.1"/>
<text transform="translate(393.90,384.35) rotate(-45)" x="0" y="0" font-size="8.0" textLength="21.70" lengthAdjust="spacingAndGlyphs" stroke="#231f20" stroke-width="0.12">FDFT1</text>
<rect x="413.46" y="347.02" width="7.90" height="12.18" fill="#f7941d"/>
<line x1="417.41" y1="343.24" x2="417.41" y2="347.02" stroke="#161616" stroke-width="1.1"/>
<line x1="415.71" y1="343.24" x2="419.11" y2="343.24" stroke="#161616" stroke-width="1.1"/>
<line x1="417.41" y1="359.20" x2="417.41" y2="362.30" stroke="#161616" stroke-width="1.1"/>
<text transform="translate(402.40,388.60) rotate(-45)" x="0" y="0" font-size="8.0" textLength="28.49" lengthAdjust="spacingAndGlyphs" stroke="#231f20" stroke-width="0.12">MSMO1</text>
<rect x="425.65" y="335.43" width="7.90" height="23.77" fill="#006b4f"/>
<line x1="429.60" y1="331.23" x2="429.60" y2="335.43" stroke="#161616" stroke-width="1.1"/>
<line x1="427.90" y1="331.23" x2="431.30" y2="331.23" stroke="#161616" stroke-width="1.1"/>
<line x1="429.60" y1="359.20" x2="429.60" y2="362.30" stroke="#161616" stroke-width="1.1"/>
<text transform="translate(417.85,384.85) rotate(-45)" x="0" y="0" font-size="8.0" textLength="24.85" lengthAdjust="spacingAndGlyphs" stroke="#231f20" stroke-width="0.12">NSDHL</text>
<rect x="437.84" y="273.40" width="7.90" height="85.80" fill="#8680c0"/>
<line x1="441.79" y1="271.77" x2="441.79" y2="273.40" stroke="#161616" stroke-width="1.1"/>
<line x1="440.09" y1="271.77" x2="443.49" y2="271.77" stroke="#161616" stroke-width="1.1"/>
<line x1="441.79" y1="359.20" x2="441.79" y2="362.30" stroke="#161616" stroke-width="1.1"/>
<text transform="translate(431.70,384.35) rotate(-45)" x="0" y="0" font-size="8.0" textLength="20.25" lengthAdjust="spacingAndGlyphs" stroke="#231f20" stroke-width="0.12">shCtrl</text>
<rect x="450.03" y="346.93" width="7.90" height="12.27" fill="#3d4f60"/>
<line x1="453.98" y1="344.53" x2="453.98" y2="346.93" stroke="#161616" stroke-width="1.1"/>
<line x1="452.28" y1="344.53" x2="455.68" y2="344.53" stroke="#161616" stroke-width="1.1"/>
<line x1="453.98" y1="359.20" x2="453.98" y2="362.30" stroke="#161616" stroke-width="1.1"/>
<text transform="translate(435.20,391.35) rotate(-45)" x="0" y="0" font-size="8.0" textLength="32.37" lengthAdjust="spacingAndGlyphs" stroke="#231f20" stroke-width="0.12">CYP51A1</text>
<rect x="462.22" y="314.93" width="7.90" height="44.27" fill="#29abe2"/>
<line x1="466.17" y1="308.41" x2="466.17" y2="314.93" stroke="#161616" stroke-width="1.1"/>
<line x1="464.47" y1="308.41" x2="467.87" y2="308.41" stroke="#161616" stroke-width="1.1"/>
<line x1="466.17" y1="359.20" x2="466.17" y2="362.30" stroke="#161616" stroke-width="1.1"/>
<text transform="translate(449.65,389.90) rotate(-45)" x="0" y="0" font-size="8.0" textLength="29.96" lengthAdjust="spacingAndGlyphs" stroke="#231f20" stroke-width="0.12">DHCR24</text>
<rect x="474.41" y="338.09" width="7.90" height="21.11" fill="#e6188a"/>
<line x1="478.36" y1="332.34" x2="478.36" y2="338.09" stroke="#161616" stroke-width="1.1"/>
<line x1="476.66" y1="332.34" x2="480.06" y2="332.34" stroke="#161616" stroke-width="1.1"/>
<line x1="478.36" y1="359.20" x2="478.36" y2="362.30" stroke="#161616" stroke-width="1.1"/>
<text transform="translate(467.35,384.40) rotate(-45)" x="0" y="0" font-size="8.0" textLength="21.99" lengthAdjust="spacingAndGlyphs" stroke="#231f20" stroke-width="0.12">FDFT1</text>
<rect x="486.60" y="340.75" width="7.90" height="18.45" fill="#b5651d"/>
<line x1="490.55" y1="337.58" x2="490.55" y2="340.75" stroke="#161616" stroke-width="1.1"/>
<line x1="488.85" y1="337.58" x2="492.25" y2="337.58" stroke="#161616" stroke-width="1.1"/>
<line x1="490.55" y1="359.20" x2="490.55" y2="362.30" stroke="#161616" stroke-width="1.1"/>
<text transform="translate(474.95,389.40) rotate(-45)" x="0" y="0" font-size="8.0" textLength="28.70" lengthAdjust="spacingAndGlyphs" stroke="#231f20" stroke-width="0.12">MSMO1</text>
<rect x="498.79" y="343.33" width="7.90" height="15.87" fill="#a0c080"/>
<line x1="502.74" y1="342.21" x2="502.74" y2="343.33" stroke="#161616" stroke-width="1.1"/>
<line x1="501.04" y1="342.21" x2="504.44" y2="342.21" stroke="#161616" stroke-width="1.1"/>
<line x1="502.74" y1="359.20" x2="502.74" y2="362.30" stroke="#161616" stroke-width="1.1"/>
<text transform="translate(489.95,386.15) rotate(-45)" x="0" y="0" font-size="8.0" textLength="25.70" lengthAdjust="spacingAndGlyphs" stroke="#231f20" stroke-width="0.12">NSDHL</text>
<line x1="346.20" y1="394.20" x2="411.40" y2="394.20" stroke="#3a3a3a" stroke-width="1.0"/>
<line x1="426.80" y1="394.20" x2="491.40" y2="394.20" stroke="#3a3a3a" stroke-width="1.0"/>
<text x="359.90" y="404.70" font-size="9.0" textLength="37.30" lengthAdjust="spacingAndGlyphs" stroke="#231f20" stroke-width="0.15">Karpas-422</text>
<text x="454.00" y="404.70" font-size="9.0" textLength="10.20" lengthAdjust="spacingAndGlyphs" stroke="#231f20" stroke-width="0.15">DB</text>
<text x="14.20" y="449.50" font-size="11.0" font-weight="bold" textLength="6.60" lengthAdjust="spacingAndGlyphs" stroke="#231f20" stroke-width="0.45">E</text>
<line x1="43.20" y1="453.00" x2="43.20" y2="506.30" stroke="#161616" stroke-width="1.15"/>
<line x1="43.20" y1="514.70" x2="43.20" y2="568.30" stroke="#161616" stroke-width="1.15"/>
<line x1="40.00" y1="461.75" x2="43.20" y2="461.75" stroke="#161616" stroke-width="1.15"/>
<text x="38.30" y="464.65" font-size="8.4" text-anchor="end" textLength="7.75" lengthAdjust="spacingAndGlyphs" stroke="#231f20" stroke-width="0.25">10</text>
<line x1="40.00" y1="479.65" x2="43.20" y2="479.65" stroke="#161616" stroke-width="1.15"/>
<text x="38.30" y="482.55" font-size="8.4" text-anchor="end" textLength="4.30" lengthAdjust="spacingAndGlyphs" stroke="#231f20" stroke-width="0.25">9</text>
<line x1="40.00" y1="497.55" x2="43.20" y2="497.55" stroke="#161616" stroke-width="1.15"/>
<text x="38.30" y="500.45" font-size="8.4" text-anchor="end" textLength="4.30" lengthAdjust="spacingAndGlyphs" stroke="#231f20" stroke-width="0.25">8</text>
<line x1="41.00" y1="506.30" x2="45.00" y2="506.30" stroke="#161616" stroke-width="1.1"/>
<line x1="41.00" y1="514.70" x2="45.00" y2="514.70" stroke="#161616" stroke-width="1.1"/>
<line x1="40.00" y1="567.80" x2="43.20" y2="567.80" stroke="#161616" stroke-width="1.15"/>
<text x="38.30" y="570.70" font-size="8.4" text-anchor="end" textLength="4.30" lengthAdjust="spacingAndGlyphs" stroke="#231f20" stroke-width="0.25">0</text>
<line x1="40.00" y1="554.52" x2="43.20" y2="554.52" stroke="#161616" stroke-width="1.15"/>
<text x="38.30" y="557.42" font-size="8.4" text-anchor="end" textLength="4.30" lengthAdjust="spacingAndGlyphs" stroke="#231f20" stroke-width="0.25">1</text>
<line x1="40.00" y1="541.24" x2="43.20" y2="541.24" stroke="#161616" stroke-width="1.15"/>
<text x="38.30" y="544.14" font-size="8.4" text-anchor="end" textLength="4.30" lengthAdjust="spacingAndGlyphs" stroke="#231f20" stroke-width="0.25">2</text>
<line x1="40.00" y1="527.96" x2="43.20" y2="527.96" stroke="#161616" stroke-width="1.15"/>
<text x="38.30" y="530.86" font-size="8.4" text-anchor="end" textLength="4.30" lengthAdjust="spacingAndGlyphs" stroke="#231f20" stroke-width="0.25">3</text>
<line x1="40.00" y1="514.68" x2="43.20" y2="514.68" stroke="#161616" stroke-width="1.15"/>
<text x="38.30" y="517.58" font-size="8.4" text-anchor="end" textLength="4.30" lengthAdjust="spacingAndGlyphs" stroke="#231f20" stroke-width="0.25">4</text>
<line x1="42.70" y1="567.80" x2="215.80" y2="567.80" stroke="#161616" stroke-width="1.15"/>
<text transform="translate(24.25,549.90) rotate(-90)" x="0" y="0" font-size="10.0" textLength="80.20" lengthAdjust="spacingAndGlyphs" stroke="#231f20" stroke-width="0.1">FC (PCDH-SOX9/control)</text>
<rect x="47.25" y="554.52" width="5.40" height="13.28" fill="#c9122f"/>
<line x1="49.95" y1="553.86" x2="49.95" y2="554.52" stroke="#161616" stroke-width="1.1"/>
<line x1="48.45" y1="553.86" x2="51.45" y2="553.86" stroke="#161616" stroke-width="1.1"/>
<line x1="49.95" y1="567.80" x2="49.95" y2="570.60" stroke="#161616" stroke-width="1.1"/>
<rect x="55.61" y="514.70" width="5.40" height="53.10" fill="#0f4c81"/>
<rect x="55.61" y="496.12" width="5.40" height="10.18" fill="#0f4c81"/>
<line x1="58.31" y1="459.06" x2="58.31" y2="496.12" stroke="#161616" stroke-width="1.1"/>
<line x1="56.81" y1="459.06" x2="59.81" y2="459.06" stroke="#161616" stroke-width="1.1"/>
<line x1="58.31" y1="567.80" x2="58.31" y2="570.60" stroke="#161616" stroke-width="1.1"/>
<rect x="63.97" y="554.52" width="5.40" height="13.28" fill="#c9122f"/>
<line x1="66.67" y1="553.19" x2="66.67" y2="554.52" stroke="#161616" stroke-width="1.1"/>
<line x1="65.17" y1="553.19" x2="68.17" y2="553.19" stroke="#161616" stroke-width="1.1"/>
<line x1="66.67" y1="567.80" x2="66.67" y2="570.60" stroke="#161616" stroke-width="1.1"/>
<rect x="72.33" y="545.89" width="5.40" height="21.91" fill="#0f4c81"/>
<line x1="75.03" y1="542.57" x2="75.03" y2="545.89" stroke="#161616" stroke-width="1.1"/>
<line x1="73.53" y1="542.57" x2="76.53" y2="542.57" stroke="#161616" stroke-width="1.1"/>
<line x1="75.03" y1="567.80" x2="75.03" y2="570.60" stroke="#161616" stroke-width="1.1"/>
<rect x="80.69" y="554.52" width="5.40" height="13.28" fill="#c9122f"/>
<line x1="83.39" y1="551.20" x2="83.39" y2="554.52" stroke="#161616" stroke-width="1.1"/>
<line x1="81.89" y1="551.20" x2="84.89" y2="551.20" stroke="#161616" stroke-width="1.1"/>
<line x1="83.39" y1="567.80" x2="83.39" y2="570.60" stroke="#161616" stroke-width="1.1"/>
<rect x="89.05" y="544.56" width="5.40" height="23.24" fill="#0f4c81"/>
<line x1="91.75" y1="538.58" x2="91.75" y2="544.56" stroke="#161616" stroke-width="1.1"/>
<line x1="90.25" y1="538.58" x2="93.25" y2="538.58" stroke="#161616" stroke-width="1.1"/>
<line x1="91.75" y1="567.80" x2="91.75" y2="570.60" stroke="#161616" stroke-width="1.1"/>
<rect x="97.41" y="554.52" width="5.40" height="13.28" fill="#c9122f"/>
<line x1="100.11" y1="554.12" x2="100.11" y2="554.52" stroke="#161616" stroke-width="1.1"/>
<line x1="98.61" y1="554.12" x2="101.61" y2="554.12" stroke="#161616" stroke-width="1.1"/>
<line x1="100.11" y1="567.80" x2="100.11" y2="570.60" stroke="#161616" stroke-width="1.1"/>
<rect x="105.77" y="552.26" width="5.40" height="15.54" fill="#0f4c81"/>
<line x1="108.47" y1="551.20" x2="108.47" y2="552.26" stroke="#161616" stroke-width="1.1"/>
<line x1="106.97" y1="551.20" x2="109.97" y2="551.20" stroke="#161616" stroke-width="1.1"/>
<line x1="108.47" y1="567.80" x2="108.47" y2="570.60" stroke="#161616" stroke-width="1.1"/>
<rect x="114.13" y="554.52" width="5.40" height="13.28" fill="#c9122f"/>
<line x1="116.83" y1="553.19" x2="116.83" y2="554.52" stroke="#161616" stroke-width="1.1"/>
<line x1="115.33" y1="553.19" x2="118.33" y2="553.19" stroke="#161616" stroke-width="1.1"/>
<line x1="116.83" y1="567.80" x2="116.83" y2="570.60" stroke="#161616" stroke-width="1.1"/>
<rect x="122.49" y="527.56" width="5.40" height="40.24" fill="#0f4c81"/>
<line x1="125.19" y1="523.98" x2="125.19" y2="527.56" stroke="#161616" stroke-width="1.1"/>
<line x1="123.69" y1="523.98" x2="126.69" y2="523.98" stroke="#161616" stroke-width="1.1"/>
<line x1="125.19" y1="567.80" x2="125.19" y2="570.60" stroke="#161616" stroke-width="1.1"/>
<rect x="130.85" y="554.52" width="5.40" height="13.28" fill="#c9122f"/>
<line x1="133.55" y1="547.88" x2="133.55" y2="554.52" stroke="#161616" stroke-width="1.1"/>
<line x1="132.05" y1="547.88" x2="135.05" y2="547.88" stroke="#161616" stroke-width="1.1"/>
<line x1="133.55" y1="567.80" x2="133.55" y2="570.60" stroke="#161616" stroke-width="1.1"/>
<rect x="139.21" y="541.24" width="5.40" height="26.56" fill="#0f4c81"/>
<line x1="141.91" y1="540.58" x2="141.91" y2="541.24" stroke="#161616" stroke-width="1.1"/>
<line x1="140.41" y1="540.58" x2="143.41" y2="540.58" stroke="#161616" stroke-width="1.1"/>
<line x1="141.91" y1="567.80" x2="141.91" y2="570.60" stroke="#161616" stroke-width="1.1"/>
<rect x="147.57" y="554.52" width="5.40" height="13.28" fill="#c9122f"/>
<line x1="150.27" y1="553.59" x2="150.27" y2="554.52" stroke="#161616" stroke-width="1.1"/>
<line x1="148.77" y1="553.59" x2="151.77" y2="553.59" stroke="#161616" stroke-width="1.1"/>
<line x1="150.27" y1="567.80" x2="150.27" y2="570.60" stroke="#161616" stroke-width="1.1"/>
<rect x="155.93" y="542.57" width="5.40" height="25.23" fill="#0f4c81"/>
<line x1="158.63" y1="542.17" x2="158.63" y2="542.57" stroke="#161616" stroke-width="1.1"/>
<line x1="157.13" y1="542.17" x2="160.13" y2="542.17" stroke="#161616" stroke-width="1.1"/>
<line x1="158.63" y1="567.80" x2="158.63" y2="570.60" stroke="#161616" stroke-width="1.1"/>
<rect x="164.29" y="554.52" width="5.40" height="13.28" fill="#c9122f"/>
<line x1="166.99" y1="553.19" x2="166.99" y2="554.52" stroke="#161616" stroke-width="1.1"/>
<line x1="165.49" y1="553.19" x2="168.49" y2="553.19" stroke="#161616" stroke-width="1.1"/>
<line x1="166.99" y1="567.80" x2="166.99" y2="570.60" stroke="#161616" stroke-width="1.1"/>
<rect x="172.65" y="529.95" width="5.40" height="37.85" fill="#0f4c81"/>
<line x1="175.35" y1="516.94" x2="175.35" y2="529.95" stroke="#161616" stroke-width="1.1"/>
<line x1="173.85" y1="516.94" x2="176.85" y2="516.94" stroke="#161616" stroke-width="1.1"/>
<line x1="175.35" y1="567.80" x2="175.35" y2="570.60" stroke="#161616" stroke-width="1.1"/>
<rect x="181.01" y="554.52" width="5.40" height="13.28" fill="#c9122f"/>
<line x1="183.71" y1="552.53" x2="183.71" y2="554.52" stroke="#161616" stroke-width="1.1"/>
<line x1="182.21" y1="552.53" x2="185.21" y2="552.53" stroke="#161616" stroke-width="1.1"/>
<line x1="183.71" y1="567.80" x2="183.71" y2="570.60" stroke="#161616" stroke-width="1.1"/>
<rect x="189.37" y="545.49" width="5.40" height="22.31" fill="#0f4c81"/>
<line x1="192.07" y1="542.57" x2="192.07" y2="545.49" stroke="#161616" stroke-width="1.1"/>
<line x1="190.57" y1="542.57" x2="193.57" y2="542.57" stroke="#161616" stroke-width="1.1"/>
<line x1="192.07" y1="567.80" x2="192.07" y2="570.60" stroke="#161616" stroke-width="1.1"/>
<rect x="197.73" y="554.52" width="5.40" height="13.28" fill="#c9122f"/>
<line x1="200.43" y1="554.25" x2="200.43" y2="554.52" stroke="#161616" stroke-width="1.1"/>
<line x1="198.93" y1="554.25" x2="201.93" y2="554.25" stroke="#161616" stroke-width="1.1"/>
<line x1="200.43" y1="567.80" x2="200.43" y2="570.60" stroke="#161616" stroke-width="1.1"/>
<rect x="206.09" y="536.99" width="5.40" height="30.81" fill="#0f4c81"/>
<line x1="208.79" y1="532.87" x2="208.79" y2="536.99" stroke="#161616" stroke-width="1.1"/>
<line x1="207.29" y1="532.87" x2="210.29" y2="532.87" stroke="#161616" stroke-width="1.1"/>
<line x1="208.79" y1="567.80" x2="208.79" y2="570.60" stroke="#161616" stroke-width="1.1"/>
<text transform="translate(30.62,600.40) rotate(-45)" x="0" y="0" font-size="8.0" textLength="33.47" lengthAdjust="spacingAndGlyphs" stroke="#231f20" stroke-width="0.12">CYP51A1</text>
<text transform="translate(49.20,599.30) rotate(-45)" x="0" y="0" font-size="8.0" textLength="31.02" lengthAdjust="spacingAndGlyphs" stroke="#231f20" stroke-width="0.12">DHCR24</text>
<text transform="translate(71.45,593.80) rotate(-45)" x="0" y="0" font-size="8.0" textLength="22.98" lengthAdjust="spacingAndGlyphs" stroke="#231f20" stroke-width="0.12">FDFT1</text>
<text transform="translate(84.20,598.15) rotate(-45)" x="0" y="0" font-size="8.0" textLength="28.84" lengthAdjust="spacingAndGlyphs" stroke="#231f20" stroke-width="0.12">MSMO1</text>
<text transform="translate(105.00,595.70) rotate(-45)" x="0" y="0" font-size="8.0" textLength="24.43" lengthAdjust="spacingAndGlyphs" stroke="#231f20" stroke-width="0.12">NSDHL</text>
<text transform="translate(117.15,599.90) rotate(-45)" x="0" y="0" font-size="8.0" textLength="32.66" lengthAdjust="spacingAndGlyphs" stroke="#231f20" stroke-width="0.12">CYP51A1</text>
<text transform="translate(138.85,598.55) rotate(-45)" x="0" y="0" font-size="8.0" textLength="30.45" lengthAdjust="spacingAndGlyphs" stroke="#231f20" stroke-width="0.12">DHCR24</text>
<text transform="translate(160.15,594.05) rotate(-45)" x="0" y="0" font-size="8.0" textLength="22.48" lengthAdjust="spacingAndGlyphs" stroke="#231f20" stroke-width="0.12">FDFT1</text>
<text transform="translate(177.40,594.15) rotate(-45)" x="0" y="0" font-size="8.0" textLength="22.58" lengthAdjust="spacingAndGlyphs" stroke="#231f20" stroke-width="0.12">TRAF5</text>
<text transform="translate(195.45,595.55) rotate(-45)" x="0" y="0" font-size="8.0" textLength="26.41" lengthAdjust="spacingAndGlyphs" stroke="#231f20" stroke-width="0.12">NSDHL</text>
<rect x="126.30" y="460.00" width="9.30" height="8.30" fill="#c9122f"/>
<rect x="126.30" y="473.00" width="9.30" height="8.30" fill="#0f4c81"/>
<text x="139.20" y="466.10" font-size="7.8" textLength="13.00" lengthAdjust="spacingAndGlyphs" stroke="#231f20" stroke-width="0.25">Ctrl</text>
<text x="139.20" y="479.30" font-size="7.8" textLength="41.60" lengthAdjust="spacingAndGlyphs" stroke="#231f20" stroke-width="0.25">pCDH-SOX9</text>
<line x1="23.80" y1="604.20" x2="95.40" y2="604.20" stroke="#3a3a3a" stroke-width="1.0"/>
<line x1="108.80" y1="604.20" x2="180.00" y2="604.20" stroke="#3a3a3a" stroke-width="1.0"/>
<text x="45.70" y="615.00" font-size="9.8" textLength="28.00" lengthAdjust="spacingAndGlyphs" stroke="#231f20" stroke-width="0.15">SUDHL6</text>
<text x="131.10" y="615.00" font-size="9.8" textLength="25.80" lengthAdjust="spacingAndGlyphs" stroke="#231f20" stroke-width="0.15">OCI-LY1</text>
<text x="234.40" y="449.10" font-size="11.0" font-weight="bold" textLength="5.80" lengthAdjust="spacingAndGlyphs" stroke="#231f20" stroke-width="0.45">F</text>
<line x1="269.80" y1="460.10" x2="269.80" y2="576.70" stroke="#161616" stroke-width="1.15"/>
<line x1="269.30" y1="576.20" x2="443.70" y2="576.20" stroke="#161616" stroke-width="1.15"/>
<line x1="266.50" y1="576.20" x2="269.80" y2="576.20" stroke="#161616" stroke-width="1.15"/>
<text x="263.20" y="579.00" font-size="8.2" text-anchor="end" textLength="4.10" lengthAdjust="spacingAndGlyphs" stroke="#231f20" stroke-width="0.25">0</text>
<line x1="266.50" y1="547.25" x2="269.80" y2="547.25" stroke="#161616" stroke-width="1.15"/>
<text x="263.20" y="550.05" font-size="8.2" text-anchor="end" textLength="4.10" lengthAdjust="spacingAndGlyphs" stroke="#231f20" stroke-width="0.25">1</text>
<line x1="266.50" y1="518.30" x2="269.80" y2="518.30" stroke="#161616" stroke-width="1.15"/>
<text x="263.20" y="521.10" font-size="8.2" text-anchor="end" textLength="4.10" lengthAdjust="spacingAndGlyphs" stroke="#231f20" stroke-width="0.25">2</text>
<line x1="266.50" y1="489.35" x2="269.80" y2="489.35" stroke="#161616" stroke-width="1.15"/>
<text x="263.20" y="492.15" font-size="8.2" text-anchor="end" textLength="4.10" lengthAdjust="spacingAndGlyphs" stroke="#231f20" stroke-width="0.25">3</text>
<line x1="266.50" y1="460.40" x2="269.80" y2="460.40" stroke="#161616" stroke-width="1.15"/>
<text x="263.20" y="463.20" font-size="8.2" text-anchor="end" textLength="4.10" lengthAdjust="spacingAndGlyphs" stroke="#231f20" stroke-width="0.25">4</text>
<text transform="translate(242.00,573.20) rotate(-90)" x="0" y="0" font-size="10.0" textLength="109.30" lengthAdjust="spacingAndGlyphs" stroke="#231f20" stroke-width="0.1">Relative expression of cholesterol</text>
<text transform="translate(253.00,549.70) rotate(-90)" x="0" y="0" font-size="10.0" textLength="63.90" lengthAdjust="spacingAndGlyphs" stroke="#231f20" stroke-width="0.1">biosynthesis genes</text>
<rect x="272.80" y="562.30" width="11.20" height="13.90" fill="#e8909f"/>
<rect x="290.10" y="517.14" width="11.20" height="59.06" fill="#82a4c4"/>
<line x1="278.40" y1="576.20" x2="278.40" y2="578.70" stroke="#161616" stroke-width="1.1"/>
<line x1="295.70" y1="576.20" x2="295.70" y2="578.70" stroke="#161616" stroke-width="1.1"/>
<rect x="307.42" y="566.36" width="11.20" height="9.84" fill="#e8909f"/>
<rect x="324.72" y="539.43" width="11.20" height="36.77" fill="#82a4c4"/>
<line x1="313.02" y1="576.20" x2="313.02" y2="578.70" stroke="#161616" stroke-width="1.1"/>
<line x1="330.32" y1="576.20" x2="330.32" y2="578.70" stroke="#161616" stroke-width="1.1"/>
<rect x="342.04" y="549.28" width="11.20" height="26.92" fill="#e8909f"/>
<rect x="359.34" y="558.25" width="11.20" height="17.95" fill="#82a4c4"/>
<line x1="347.64" y1="576.20" x2="347.64" y2="578.70" stroke="#161616" stroke-width="1.1"/>
<line x1="364.94" y1="576.20" x2="364.94" y2="578.70" stroke="#161616" stroke-width="1.1"/>
<rect x="376.66" y="568.38" width="11.20" height="7.82" fill="#e8909f"/>
<rect x="393.96" y="540.88" width="11.20" height="35.32" fill="#82a4c4"/>
<line x1="382.26" y1="576.20" x2="382.26" y2="578.70" stroke="#161616" stroke-width="1.1"/>
<line x1="399.56" y1="576.20" x2="399.56" y2="578.70" stroke="#161616" stroke-width="1.1"/>
<rect x="411.28" y="575.33" width="11.20" height="0.87" fill="#e8909f"/>
<rect x="428.58" y="546.38" width="11.20" height="29.82" fill="#82a4c4"/>
<line x1="416.88" y1="576.20" x2="416.88" y2="578.70" stroke="#161616" stroke-width="1.1"/>
<line x1="434.18" y1="576.20" x2="434.18" y2="578.70" stroke="#161616" stroke-width="1.1"/>
<line x1="278.40" y1="555.07" x2="278.40" y2="567.52" stroke="#161616" stroke-width="1.1"/>
<line x1="276.80" y1="555.07" x2="280.00" y2="555.07" stroke="#161616" stroke-width="1.1"/>
<line x1="276.80" y1="567.52" x2="280.00" y2="567.52" stroke="#161616" stroke-width="1.1"/>
<rect x="278.10" y="550.90" width="4.00" height="4.00" fill="#d0102e"/>
<rect x="274.70" y="555.60" width="4.00" height="4.00" fill="#d0102e"/>
<rect x="272.60" y="558.60" width="4.00" height="4.00" fill="#d0102e"/>
<rect x="275.60" y="561.20" width="4.00" height="4.00" fill="#d0102e"/>
<rect x="278.00" y="561.60" width="4.00" height="4.00" fill="#d0102e"/>
<rect x="280.00" y="562.40" width="4.00" height="4.00" fill="#d0102e"/>
<rect x="276.10" y="570.20" width="4.00" height="4.00" fill="#d0102e"/>
<line x1="295.70" y1="474.88" x2="295.70" y2="557.96" stroke="#161616" stroke-width="1.1"/>
<line x1="294.10" y1="474.88" x2="297.30" y2="474.88" stroke="#161616" stroke-width="1.1"/>
<line x1="294.10" y1="557.96" x2="297.30" y2="557.96" stroke="#161616" stroke-width="1.1"/>
<path d="M295.70,544.21 L297.80,548.29 L293.60,548.29 Z" fill="#1f5fa0"/>
<path d="M295.70,485.21 L297.80,489.29 L293.60,489.29 Z" fill="#1f5fa0"/>
<line x1="313.00" y1="558.25" x2="313.00" y2="566.07" stroke="#161616" stroke-width="1.1"/>
<line x1="311.40" y1="558.25" x2="314.60" y2="558.25" stroke="#161616" stroke-width="1.1"/>
<line x1="311.40" y1="566.07" x2="314.60" y2="566.07" stroke="#161616" stroke-width="1.1"/>
<rect x="311.00" y="551.40" width="4.00" height="4.00" fill="#d0102e"/>
<rect x="311.00" y="559.00" width="4.00" height="4.00" fill="#d0102e"/>
<rect x="307.80" y="566.50" width="4.00" height="4.00" fill="#d0102e"/>
<rect x="311.00" y="566.50" width="4.00" height="4.00" fill="#d0102e"/>
<rect x="309.50" y="565.00" width="4.00" height="4.00" fill="#d0102e"/>
<rect x="314.20" y="573.40" width="4.00" height="4.00" fill="#d0102e"/>
<line x1="330.60" y1="536.83" x2="330.60" y2="542.04" stroke="#161616" stroke-width="1.1"/>
<line x1="329.00" y1="536.83" x2="332.20" y2="536.83" stroke="#161616" stroke-width="1.1"/>
<line x1="329.00" y1="542.04" x2="332.20" y2="542.04" stroke="#161616" stroke-width="1.1"/>
<path d="M327.70,535.61 L329.80,539.69 L325.60,539.69 Z" fill="#1f5fa0"/>
<path d="M333.60,539.31 L335.70,543.39 L331.50,543.39 Z" fill="#1f5fa0"/>
<line x1="348.10" y1="537.41" x2="348.10" y2="563.46" stroke="#161616" stroke-width="1.1"/>
<line x1="346.50" y1="537.41" x2="349.70" y2="537.41" stroke="#161616" stroke-width="1.1"/>
<line x1="346.50" y1="563.46" x2="349.70" y2="563.46" stroke="#161616" stroke-width="1.1"/>
<rect x="345.90" y="532.30" width="4.00" height="4.00" fill="#d0102e"/>
<rect x="342.60" y="538.90" width="4.00" height="4.00" fill="#d0102e"/>
<rect x="345.70" y="539.80" width="4.00" height="4.00" fill="#d0102e"/>
<rect x="348.80" y="541.10" width="4.00" height="4.00" fill="#d0102e"/>
<rect x="345.90" y="557.00" width="4.00" height="4.00" fill="#d0102e"/>
<rect x="345.90" y="572.00" width="4.00" height="4.00" fill="#d0102e"/>
<line x1="365.30" y1="543.20" x2="365.30" y2="572.73" stroke="#161616" stroke-width="1.1"/>
<line x1="363.70" y1="543.20" x2="366.90" y2="543.20" stroke="#161616" stroke-width="1.1"/>
<line x1="363.70" y1="572.73" x2="366.90" y2="572.73" stroke="#161616" stroke-width="1.1"/>
<path d="M365.30,545.91 L367.40,549.99 L363.20,549.99 Z" fill="#1f5fa0"/>
<path d="M365.30,567.51 L367.40,571.59 L363.20,571.59 Z" fill="#1f5fa0"/>
<line x1="382.50" y1="564.04" x2="382.50" y2="572.73" stroke="#161616" stroke-width="1.1"/>
<line x1="380.90" y1="564.04" x2="384.10" y2="564.04" stroke="#161616" stroke-width="1.1"/>
<line x1="380.90" y1="572.73" x2="384.10" y2="572.73" stroke="#161616" stroke-width="1.1"/>
<rect x="377.40" y="562.20" width="4.00" height="4.00" fill="#d0102e"/>
<rect x="383.50" y="561.00" width="4.00" height="4.00" fill="#d0102e"/>
<rect x="380.50" y="565.60" width="4.00" height="4.00" fill="#d0102e"/>
<rect x="378.40" y="568.30" width="4.00" height="4.00" fill="#d0102e"/>
<rect x="381.50" y="573.00" width="4.00" height="4.00" fill="#d0102e"/>
<rect x="379.80" y="564.00" width="4.00" height="4.00" fill="#d0102e"/>
<line x1="400.00" y1="531.33" x2="400.00" y2="548.70" stroke="#161616" stroke-width="1.1"/>
<line x1="398.40" y1="531.33" x2="401.60" y2="531.33" stroke="#161616" stroke-width="1.1"/>
<line x1="398.40" y1="548.70" x2="401.60" y2="548.70" stroke="#161616" stroke-width="1.1"/>
<path d="M400.00,531.71 L402.10,535.79 L397.90,535.79 Z" fill="#1f5fa0"/>
<path d="M400.00,545.91 L402.10,549.99 L397.90,549.99 Z" fill="#1f5fa0"/>
<line x1="434.60" y1="544.36" x2="434.60" y2="547.83" stroke="#161616" stroke-width="1.1"/>
<line x1="433.00" y1="544.36" x2="436.20" y2="544.36" stroke="#161616" stroke-width="1.1"/>
<line x1="433.00" y1="547.83" x2="436.20" y2="547.83" stroke="#161616" stroke-width="1.1"/>
<rect x="412.00" y="573.20" width="4.00" height="4.00" fill="#d0102e"/>
<rect x="414.50" y="573.20" width="4.00" height="4.00" fill="#d0102e"/>
<rect x="417.00" y="573.20" width="4.00" height="4.00" fill="#d0102e"/>
<rect x="419.20" y="573.40" width="4.00" height="4.00" fill="#d0102e"/>
<path d="M430.90,543.41 L433.00,547.49 L428.80,547.49 Z" fill="#1f5fa0"/>
<path d="M438.00,545.31 L440.10,549.39 L435.90,549.39 Z" fill="#1f5fa0"/>
<polyline points="277.50,530.60 277.50,464.30 295.80,464.30 295.80,468.00" fill="none" stroke="#161616" stroke-width="1.1"/>
<text x="286.40" y="463.40" font-size="7.5" text-anchor="middle" textLength="13.00" lengthAdjust="spacingAndGlyphs" stroke="#231f20" stroke-width="0.25">****</text>
<polyline points="314.50,539.40 314.50,527.20 330.50,527.20 330.50,531.00" fill="none" stroke="#161616" stroke-width="1.1"/>
<text x="322.50" y="526.20" font-size="7.5" text-anchor="middle" textLength="12.20" lengthAdjust="spacingAndGlyphs" stroke="#231f20" stroke-width="0.25">****</text>
<polyline points="381.40,554.50 381.40,524.20 400.60,524.20 400.60,528.30" fill="none" stroke="#161616" stroke-width="1.1"/>
<text x="393.00" y="524.00" font-size="7.5" text-anchor="middle" textLength="6.80" lengthAdjust="spacingAndGlyphs" stroke="#231f20" stroke-width="0.25">**</text>
<polyline points="416.40,566.60 416.40,535.70 436.00,535.70 436.00,539.40" fill="none" stroke="#161616" stroke-width="1.1"/>
<text x="426.20" y="534.70" font-size="7.5" text-anchor="middle" textLength="12.20" lengthAdjust="spacingAndGlyphs" stroke="#231f20" stroke-width="0.25">****</text>
<text transform="translate(270.40,609.10) rotate(-45)" x="0" y="0" font-size="8.0" textLength="33.29" lengthAdjust="spacingAndGlyphs" stroke="#231f20" stroke-width="0.12">CYP51A1</text>
<text transform="translate(304.70,607.85) rotate(-45)" x="0" y="0" font-size="8.0" textLength="30.10" lengthAdjust="spacingAndGlyphs" stroke="#231f20" stroke-width="0.12">DHCR24</text>
<text transform="translate(343.85,602.05) rotate(-45)" x="0" y="0" font-size="8.0" textLength="23.47" lengthAdjust="spacingAndGlyphs" stroke="#231f20" stroke-width="0.12">FDFT1</text>
<text transform="translate(373.95,605.80) rotate(-45)" x="0" y="0" font-size="8.0" textLength="28.70" lengthAdjust="spacingAndGlyphs" stroke="#231f20" stroke-width="0.12">MSMO1</text>
<text transform="translate(406.75,607.30) rotate(-45)" x="0" y="0" font-size="8.0" textLength="29.94" lengthAdjust="spacingAndGlyphs" stroke="#231f20" stroke-width="0.12">NSDHL1</text>
<rect x="374.70" y="460.30" width="4.00" height="4.00" fill="#d0102e"/>
<path d="M376.70,470.62 L378.90,474.88 L374.50,474.88 Z" fill="#1f5fa0"/>
<text x="381.80" y="464.70" font-size="7.8" textLength="32.90" lengthAdjust="spacingAndGlyphs" stroke="#231f20" stroke-width="0.25">SOX9 low</text>
<text x="381.80" y="475.50" font-size="7.8" textLength="36.00" lengthAdjust="spacingAndGlyphs" stroke="#231f20" stroke-width="0.25">SOX9 high</text>
<rect x="0.6" y="0.6" width="518.8" height="621.8" fill="none" stroke="#000" stroke-width="1.3"/>
</svg></body></html>
